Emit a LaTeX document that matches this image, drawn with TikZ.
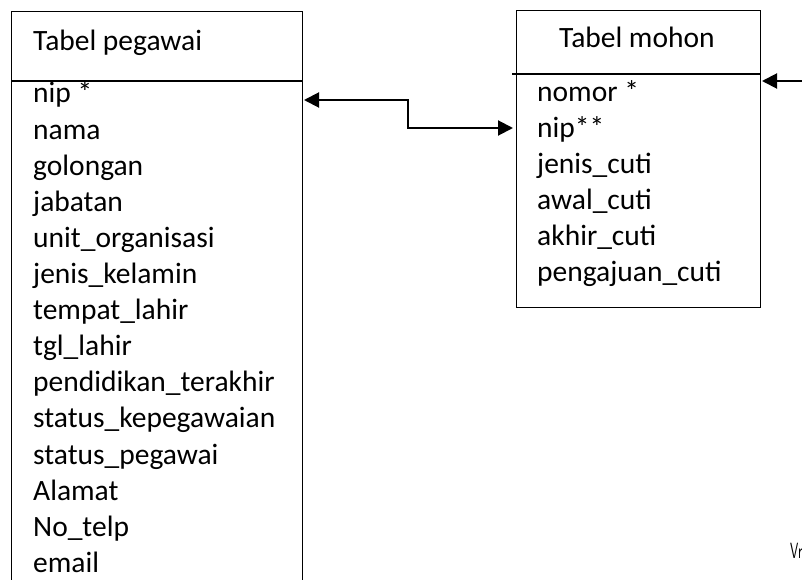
\documentclass[tikz,border=0pt]{standalone}
\usepackage{fontspec}
\setmainfont{Carlito}
\usetikzlibrary{arrows.meta}
\begin{document}
\begin{tikzpicture}[x=1pt,y=-1pt,
  field/.style={anchor=base west, inner sep=0pt, font=\fontsize{29.5}{35}\selectfont},
  tbox/.style={draw, line width=1.3pt, anchor=north west, inner sep=0pt},
  divider/.style={line width=1.5pt},
  link/.style={line width=2pt, arrows={-Triangle[length=15pt,width=15pt]}},
  linkboth/.style={line width=2pt, arrows={Triangle[length=15pt,width=15pt]-Triangle[length=15pt,width=15pt]}}]
\useasboundingbox (0,0) rectangle (802,580);
\begin{scope}
\clip (0,0) rectangle (802,580);
% boxes
\node[tbox, minimum width=291pt, minimum height=590pt] (pegawai) at (11,11) {};
\node[tbox, minimum width=244pt, minimum height=297pt] (mohon) at (516,10) {};
\coordinate (pdl) at (11,81);
\coordinate (pdr) at (302,81);
\draw[divider] (pdl) -- (pdr);
\coordinate (mdl) at (512,74);
\coordinate (mdr) at (760,74);
\draw[divider] (mdl) -- (mdr);
% titles
\node[field] (tp) at (33,51) {Tabel pegawai};
\node[field] (tm) at (559,48) {Tabel mohon};
% pegawai fields
\foreach \t [count=\i from 0] in {nip *, nama, golongan, jabatan, unit\_organisasi, jenis\_kelamin, tempat\_lahir, tgl\_lahir, pendidikan\_terakhir, status\_kepegawaian, status\_pegawai, Alamat, No\_telp, email}
  \node[field] (pf\i) at (33,103+36.1*\i) {\t};
% mohon fields
\foreach \t [count=\i from 0] in {nomor *, nip**, jenis\_cuti, awal\_cuti, akhir\_cuti, pengajuan\_cuti}
  \node[field] (mf\i) at (537,102+35.8*\i) {\t};
% connectors
\coordinate (a1) at (304,100);
\coordinate (b1) at (408,100);
\coordinate (b2) at (408,128);
\coordinate (a2) at (513,128);
\draw[linkboth] (a1) -- (b1) -- (b2) -- (a2);
\coordinate (r1) at (805,81);
\coordinate (r2) at (762,81);
\draw[link] (r1) -- (r2);
% clipped text at bottom right
\node[anchor=base west, inner sep=0pt, font=\sffamily\fontsize{22}{26}\selectfont, xscale=0.6] (vr) at (790,558) {Vr};
\end{scope}
\end{tikzpicture}
\end{document}
